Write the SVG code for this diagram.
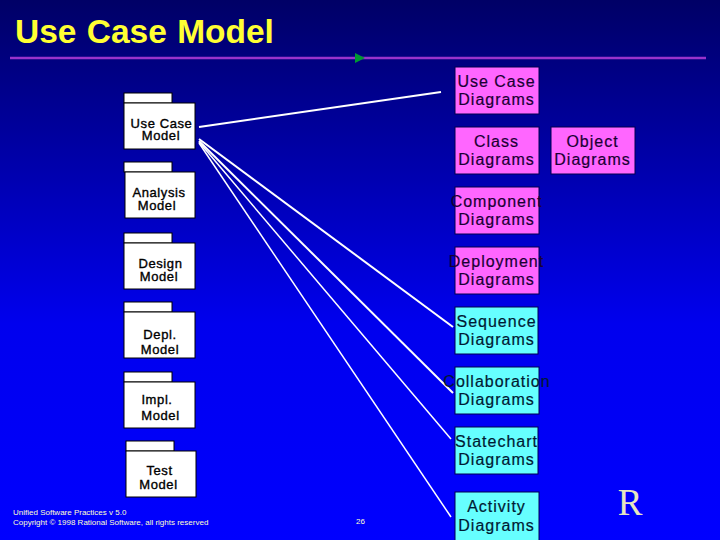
<svg xmlns="http://www.w3.org/2000/svg" width="720" height="540" viewBox="0 0 720 540">
<style>
text{font-family:"Liberation Sans",Arial,sans-serif}
.title{font-size:33.500px;font-weight:700;fill:#ffff33;word-spacing:1px}
.d{font-size:16px;letter-spacing:1px;text-anchor:middle;fill:#1a0033;stroke:#1a0033;stroke-width:.2}
.c{fill:#66ffff;stroke:#000050;stroke-width:1}
.m{fill:#ff66ff;stroke:#000050;stroke-width:1}
.c1{fill:#001a33;stroke:#001a33}
.p{fill:#fff;stroke:#000;stroke-width:1}
.l{font-size:13px;letter-spacing:.6px;text-anchor:middle;fill:#000;stroke:#000;stroke-width:.35}
.f{font-size:8px;fill:#ffffcc}
#connectors line{stroke:#fff;fill:none}
</style>
<defs>
<linearGradient id="bg" x1="0" y1="0" x2="0" y2="1"><stop offset="0" stop-color="#000066"/><stop offset=".6" stop-color="#0000ee"/><stop offset="1" stop-color="#0000ff"/></linearGradient>
</defs>
<rect width="720" height="540" fill="url(#bg)"/>
<text class="title" x="15" y="43">Use Case Model</text>
<line x1="10" y1="58" x2="706" y2="58" stroke="#9933cc" stroke-width="2.5"/>
<polygon points="355,53 365,58 355,63" fill="#009933"/>
<g id="connectors">
<line x1="199" y1="127" x2="441" y2="92" stroke-width="2"/>
<line x1="199" y1="139" x2="453" y2="327" stroke-width="2"/>
<line x1="199" y1="141" x2="453" y2="393" stroke-width="2"/>
<line x1="199" y1="142" x2="451" y2="439" stroke-width="1.5"/>
<line x1="199" y1="143" x2="451" y2="517" stroke-width="1.5"/>
</g>
<g id="pkg-usecase"><rect class="p" x="124" y="93" width="48" height="10"/><rect class="p" x="124" y="103" width="71" height="46"/><text class="l"><tspan x="161.500" y="127.500">Use Case</tspan><tspan x="161" y="140">Model</tspan></text></g>
<g id="pkg-analysis"><rect class="p" x="124" y="162" width="48" height="10"/><rect class="p" x="125" y="172" width="70" height="46"/><text class="l"><tspan x="159" y="196.500">Analysis</tspan><tspan x="157" y="209.500">Model</tspan></text></g>
<g id="pkg-design"><rect class="p" x="124" y="233" width="48" height="10"/><rect class="p" x="124" y="243" width="71" height="46"/><text class="l"><tspan x="160.500" y="268">Design</tspan><tspan x="159" y="281">Model</tspan></text></g>
<g id="pkg-depl"><rect class="p" x="124" y="302" width="48" height="10"/><rect class="p" x="124" y="312" width="71" height="46"/><text class="l"><tspan x="160" y="339">Depl.</tspan><tspan x="160" y="354">Model</tspan></text></g>
<g id="pkg-impl"><rect class="p" x="124" y="372" width="48" height="10"/><rect class="p" x="124" y="382" width="71" height="46"/><text class="l"><tspan x="157" y="404">Impl.</tspan><tspan x="160.500" y="420">Model</tspan></text></g>
<g id="pkg-test"><rect class="p" x="126" y="441" width="48" height="10"/><rect class="p" x="126" y="451" width="70" height="46"/><text class="l"><tspan x="159.500" y="475">Test</tspan><tspan x="158.500" y="489">Model</tspan></text></g>
<g id="d-usecase"><rect class="m" x="455" y="67" width="84" height="47"/><text class="d" x="496.500" y="86.500">Use Case</text><text class="d" x="496.500" y="105">Diagrams</text></g>
<g id="d-class"><rect class="m" x="455" y="127" width="84" height="47"/><text class="d" x="496.500" y="147">Class</text><text class="d" x="496.500" y="165">Diagrams</text></g>
<g id="d-object"><rect class="m" x="551" y="127" width="84" height="47"/><text class="d" x="592.500" y="147">Object</text><text class="d" x="592.500" y="165">Diagrams</text></g>
<g id="d-component"><rect class="m" x="455" y="187" width="84" height="47"/><text class="d" x="496.500" y="207">Component</text><text class="d" x="496.500" y="225">Diagrams</text></g>
<g id="d-deployment"><rect class="m" x="455" y="247" width="84" height="47"/><text class="d" x="496.500" y="267">Deployment</text><text class="d" x="496.500" y="285">Diagrams</text></g>
<g id="d-sequence"><rect class="c" x="455" y="307" width="83" height="47"/><text class="d c1" x="496.500" y="327">Sequence</text><text class="d c1" x="496.500" y="345">Diagrams</text></g>
<g id="d-collab"><rect class="c" x="455" y="367" width="84" height="47"/><text class="d c1" x="497" y="387">Collaboration</text><text class="d c1" x="496.500" y="405">Diagrams</text></g>
<g id="d-state"><rect class="c" x="455" y="427" width="83" height="47"/><text class="d c1" x="496.500" y="447">Statechart</text><text class="d c1" x="496.500" y="465">Diagrams</text></g>
<g id="d-activity"><rect class="c" x="455" y="492" width="84" height="50"/><text class="d c1" x="496.500" y="512">Activity</text><text class="d c1" x="496.500" y="531">Diagrams</text></g>
<text class="f" x="13" y="515">Unified Software Practices v 5.0</text>
<text class="f" x="13" y="525">Copyright © 1998 Rational Software, all rights reserved</text>
<text class="f" x="356" y="524">26</text>
<text x="630" y="515" font-size="37" text-anchor="middle" fill="#e6e6c0" style="font-family:'Liberation Serif',serif">R</text>
</svg>
